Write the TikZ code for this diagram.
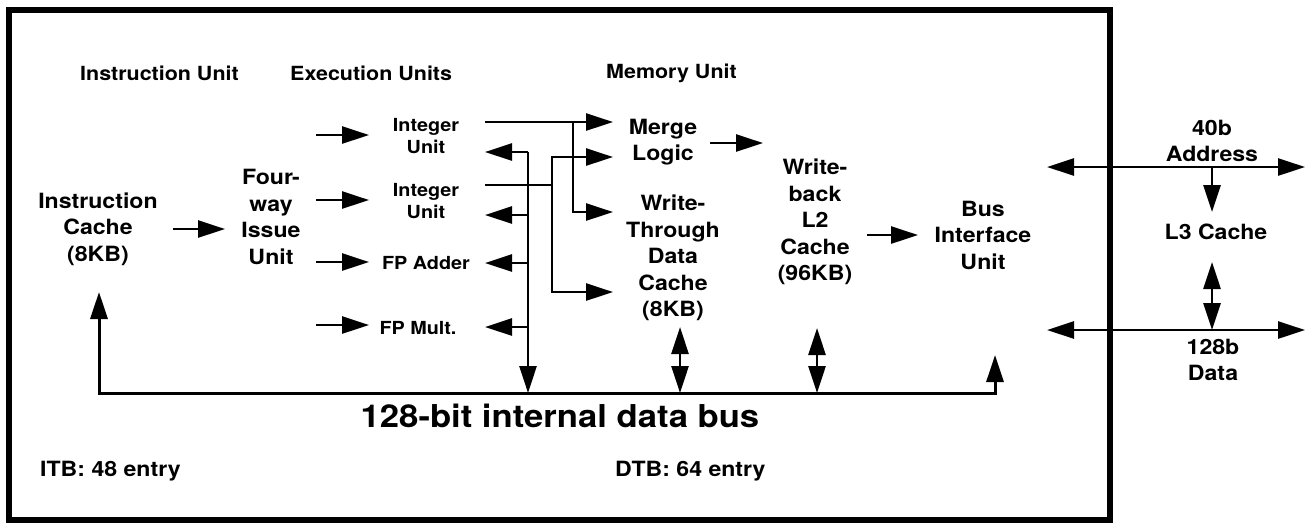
\documentclass[tikz,border=0pt]{standalone}
\usepackage{fontspec}
\setmainfont{TeX Gyre Heros}[FakeStretch=1.1]
\usetikzlibrary{arrows.meta}
% font sizes for the different kinds of labels
\newcommand\hdfont{\fontsize{19.5}{23}\selectfont\bfseries}
\newcommand\tbfont{\fontsize{21}{25}\selectfont\bfseries}
\newcommand\bdfont{\fontsize{21}{26.5}\selectfont\bfseries}
\newcommand\unfont{\fontsize{18}{22}\selectfont\bfseries}
\newcommand\bsfont{\fontsize{31.5}{36}\selectfont\bfseries}
\begin{document}
\begin{tikzpicture}[x=1pt,y=-1pt,
  bighead/.tip={Triangle[length=27pt,width=17pt]},
  conn/.style={line width=2.8pt},
  arr/.style={conn,-bighead},
  darr/.style={conn,bighead-bighead},
  hd/.style={font=\hdfont, inner sep=0pt, anchor=west},
  tb/.style={font=\tbfont, inner sep=0pt, anchor=west},
  bd/.style={font=\bdfont, align=center, inner sep=0pt},
  un/.style={font=\unfont, align=center, inner sep=0pt}]
\useasboundingbox (0,0) rectangle (1315,528);

% chip outline
\draw[line width=6.8pt] (9,10) rectangle (1110,520);

% section headings
\node[hd] (hInst) at (80,73) {Instruction Unit};
\node[hd] (hExec) at (290,73) {Execution Units};
\node[hd] (hMem) at (606,73) {Memory Unit};

% functional blocks
\node[bd] (icache) at (98,229) {Instruction\\Cache\\(8KB)};
\node[bd] (issue) at (271,217) {Four-\\way\\Issue\\Unit};
\node[un] (int1) at (426,136) {Integer\\Unit};
\node[un] (int2) at (426,201) {Integer\\Unit};
\node[un] (fpadd) at (426,263) {FP Adder};
\node[un] (fpmul) at (418,328) {FP Mult.};
\node[bd] (merge) at (663,142) {Merge\\Logic};
\node[bd] (wtc) at (673,258) {Write-\\Through\\Data\\Cache\\(8KB)};
\node[bd] (l2) at (815,222) {Write-\\back\\L2\\Cache\\(96KB)};
\node[bd] (biu) at (983,235) {Bus\\Interface\\Unit};
\node[bd] (addr) at (1212,141) {40b\\Address};
\node[bd] (l3) at (1216,232) {L3 Cache};
\node[bd] (data) at (1213,360) {128b\\Data};
\node[font=\bsfont, inner sep=0pt] (busname) at (560,416) {128-bit internal data bus};
\node[tb] (itb) at (40,471) {ITB: 48 entry};
\node[tb] (dtb) at (615,471) {DTB: 64 entry};

% connector end points
\coordinate (icOut) at (173,229);   \coordinate (isIn) at (225,229);
\coordinate (isOut) at (316,0);     \coordinate (unIn) at (369,0);
\coordinate (o1) at (485,122);      \coordinate (m1) at (613,122);
\coordinate (b1) at (573,122);      \coordinate (w1) at (613,212);
\coordinate (o2) at (485,185);      \coordinate (j2) at (552,157);
\coordinate (m2) at (613,157);      \coordinate (b2) at (552,185);
\coordinate (w2) at (613,292);
\coordinate (rTop) at (528,152);    \coordinate (rBus) at (528,393);
\coordinate (rOut) at (485,0);
\coordinate (mgOut) at (710,143);   \coordinate (l2In) at (763,143);
\coordinate (l2Out) at (867,235);   \coordinate (biuIn) at (918,235);
\coordinate (wtBot) at (680,327);   \coordinate (wtBus) at (680,393);
\coordinate (l2Bot) at (817,328);   \coordinate (l2Bus) at (817,393);
\coordinate (icBot) at (99,292);    \coordinate (busR) at (995,393);
\coordinate (biuBot) at (995,355);
\coordinate (aL) at (1047,167);     \coordinate (aR) at (1305,167);
\coordinate (aJ) at (1212,167);     \coordinate (l3Top) at (1212,212);
\coordinate (dL) at (1047,330);     \coordinate (dR) at (1305,330);
\coordinate (dJ) at (1212,330);     \coordinate (l3Bot) at (1212,262);

% instruction fetch and issue
\draw[arr] (icOut) -- (isIn);
\draw[arr] (isOut |- 0,135) -- (unIn |- 0,135);
\draw[arr] (isOut |- 0,200) -- (unIn |- 0,200);
\draw[arr] (isOut |- 0,262) -- (unIn |- 0,262);
\draw[arr] (isOut |- 0,325) -- (unIn |- 0,325);

% integer unit results to the memory unit
\draw[arr] (o1) -- (m1);
\draw[arr] (b1) |- (w1);
\draw[arr] (o2) -| (j2) -- (m2);
\draw[arr] (b2) |- (w2);

% results from the bus back to the execution units
\draw[arr] (rTop) -- (rBus);
\draw[arr] (rTop) -- (rOut |- rTop);
\draw[arr] (rTop |- 0,215) -- (rOut |- 0,215);
\draw[arr] (rTop |- 0,263) -- (rOut |- 0,263);
\draw[arr] (rTop |- 0,327) -- (rOut |- 0,327);

% memory hierarchy
\draw[arr] (mgOut) -- (l2In);
\draw[arr] (l2Out) -- (biuIn);
\draw[darr] (wtBot) -- (wtBus);
\draw[darr] (l2Bot) -- (l2Bus);

% internal data bus
\draw[conn,line width=3pt,bighead-bighead] (icBot) |- (busR) -- (biuBot);

% external address and data buses
\draw[darr] (aL) -- (aR);
\draw[arr] (aJ) -- (l3Top);
\draw[darr] (dL) -- (dR);
\draw[darr] (l3Bot) -- (dJ);
\end{tikzpicture}
\end{document}
